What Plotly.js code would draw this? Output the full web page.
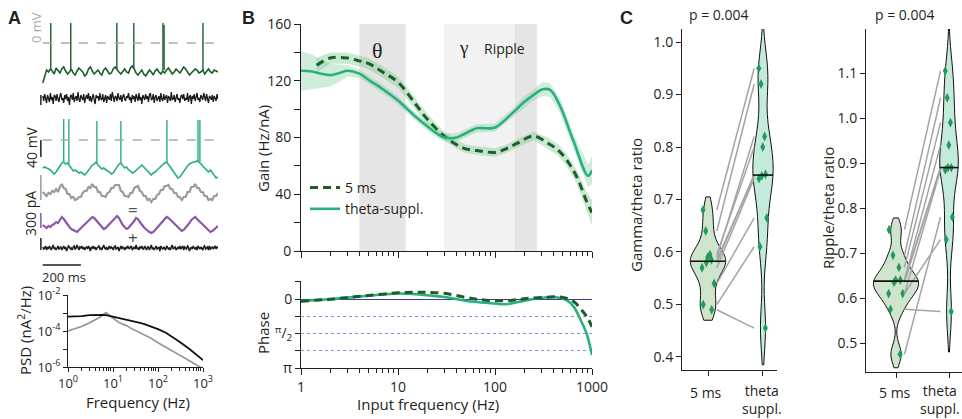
<!DOCTYPE html>
<html><head><meta charset="utf-8">
<script src="https://cdn.plot.ly/plotly-3.0.1.min.js"></script>
<style>html,body{margin:0;padding:0;background:#fff}#chart{width:962px;height:419px}</style>
</head><body><div id="chart"></div>
<script>
// ================= DATA =================
// Panel A: example traces (deflection in display units, up = positive)
const sampleStepMs = 10;   // membrane potential / theta current traces
const noiseStepMs = 5;     // noise traces
const vmCtrl = [-11,-3,2,0,3,1,-2,4,2,-1, 3,5,1,-2,0,3,-1,-3,1,4, 2,0,-4,-2,3,5,1,-2,0,2,
  -1,-3,2,4,1,-2,-1,3,5,2, 0,-2,1,3,0,-1,4,6,3,-1, -3,0,2,-2,-4,-1,2,0,-3,1,
  3,0,-2,1,-1,2,4,1,-2,0, 3,1,-1,2,5,3,0,-3,-1,1, 3,2,-1,0,2,-2,1,3,0,-1, 2,1,0];
const spikeCtrlT = [42,147,389,478,631,637,841];
const spikeCtrlBase = [3,3,3,3,2,2,2];
const spikeCtrlPeak = [49,49,49,49,49,47,49];
const noiseCtrl = [2,-3,4,-1,-5,3,0,-4,5,-2, 1,-6,3,2,-3,4,-1,-4,2,5, -2,0,-5,3,-1,4,-3,1,-7,2,
  3,-2,5,-4,0,2,-3,6,-1,-4, 3,1,-2,4,-5,0,3,-1,5,-3, 2,-4,1,4,-2,-6,3,0,2,-3,
  5,-1,-2,4,-4,1,3,-5,2,0, -2,4,-3,6,-1,-4,2,1,-3,5, 0,-2,3,-4,1,4,-1,-3,2,0,
  5,-2,1,-5,3,-1,2,-4,4,0, -3,5,-2,1,-6,3,0,-2,4,-1, 2,-4,3,5,-2,-1,4,-5,1,3,
  -3,0,2,-4,5,-1,-3,4,-2,1, 3,-5,2,0,-3,6,-2,-1,3,-4, 1,4,-2,0,-5,2,3,-1,4,-3,
  0,-2,5,-4,1,3,-6,2,-1,4, -3,1,5,-2,0,-4,3,1,-2,5, -1,-3,4,0,-5,2,1,-2,3,-4, 2,0,-3,4,-1];
const vmTheta = [2,3,2,1,0,-2,-4,-2,1,4, 7,8,6,7,4,1,-1,0,-2,-3, -2,-4,-5,-3,0,3,5,6,8,5,
  3,1,2,0,-1,-2,-4,-3,0,3, 6,7,4,2,3,0,-1,-3,-2,0, 2,4,5,3,1,-2,-4,-5,-3,-2,
  0,2,4,6,7,8,6,3,0,-3, -6,-8,-7,-4,-1,2,4,6,7,8, 8,9,8,6,3,1,-1,-2,0,-3, -6,-8,-7];
const spikeThetaT = [110,137,284,410,652,815,825];
const spikeThetaBase = [7,6,7,6,7,8,8];
const spikeThetaPeak = [51,51,49,49,50,50,50];
const iTotal = [1,-1,-3,0,-1,2,1,4,1,6, 9,5,4,-1,-1,-5,-4,-7,-6,-4, -4,0,2,2,6,5,9,6,6,1,
  1,-3,-3,-4,0,1,5,5,8,8, 8,2,1,-3,-3,-4,0,0,5,6, 7,2,1,-3,-3,-7,-6,-9,-6,-6,
  -2,-1,3,3,7,7,8,4,4,0, 0,-4,-4,-7,-4,-4,1,1,6,6, 9,5,5,1,1,-3,-3,-7,-6,-7, -3,-3,0];
const iTheta = [0,-2,-3,-1,-2,0,1,3,2,5, 8,6,3,0,-2,-4,-5,-6,-7,-5, -3,-1,1,3,5,6,8,7,5,2,
  0,-2,-4,-3,-1,2,4,6,7,9, 7,3,0,-2,-4,-3,-1,1,4,7, 6,3,0,-2,-4,-6,-7,-8,-7,-5,
  -3,0,2,4,6,8,7,5,3,1, -1,-3,-5,-6,-5,-3,0,2,5,7, 8,6,4,2,0,-2,-4,-6,-7,-6, -4,-2,-1];
const iNoise = [1,-1,0,2,-2,1,-1,2,0,-2, 1,3,-1,0,-2,1,2,-1,0,1, -2,0,2,-1,1,-3,0,2,1,-1,
  0,-2,1,2,-1,0,3,-1,-2,1, 0,2,-1,1,-2,0,1,-1,2,0, -3,1,0,2,-1,1,-2,0,1,2,
  -1,0,-2,1,3,0,-1,1,-2,0, 2,-1,1,0,-2,1,2,-1,0,1, -3,0,2,-1,1,0,-2,1,-1,2,
  0,-1,1,2,-2,0,1,-1,3,-1, 0,-2,1,0,2,-1,-1,2,0,-2, 1,1,-2,0,3,-1,0,-2,1,2,
  -1,0,1,-3,2,0,-1,1,0,-2, 2,1,-1,0,-2,1,3,-1,0,1, -2,0,1,-1,2,-1,0,2,-2,1,
  0,-1,2,1,-3,0,1,-1,2,0, -1,1,-2,2,0,-1,1,0,-2,1, 2,-1,0,1,-2,2,-1,0,1,-1, 0,2,-1,1,0];

// Panel A: PSD (log10 of nA^2/Hz)
const psdFreq = [1,1.5,2,3,4,5,6,7,8,10,13,16,20,25,30,40,50,70,100,150,200,300,500,700,1000];
const psdNoiseLog = [-3.2,-3.2,-3.17,-3.12,-3.1,-3.1,-3.1,-3.12,-3.15,-3.22,-3.3,-3.33,-3.38,-3.43,-3.47,-3.55,-3.62,-3.75,-3.9,-4.1,-4.3,-4.6,-5.0,-5.3,-5.62];
const psdThetaLog = [-4.0,-3.85,-3.75,-3.55,-3.4,-3.25,-3.1,-2.98,-3.1,-3.3,-3.5,-3.6,-3.7,-3.85,-3.95,-4.1,-4.2,-4.4,-4.65,-4.9,-5.05,-5.3,-5.65,-5.88,-6.1];

// Panel B: gain (Hz/nA)
const freq5ms = [1.45,2,3,4,5,7,10,15,20,30,40,50,70,100,130,170,250,350,450,550,700,880,1000];
const gain5ms = [131,136,136,134,132,126,119,104,93,81,75,72,70.5,69.5,72,76,81,76,71,64,52,35,27];
const gainErr5ms = [5,4,4,4,4,4,4,4,4,3,3,3,3,3,3,3,3,4,4,4,5,7,9];
const freqTheta = [1,1.3,1.6,2,2.5,3,4,5,7,10,15,20,25,30,40,50,65,80,100,150,200,250,310,370,470,640,910,1000];
const gainTheta = [127,126.5,125,124,125.5,127,125,120.5,114,106,95,88,83,80,80,83,86.5,86.5,87,97,105,110,114,113.5,102,78,53,57];
const gainErrTheta = [14,12,10,8,6,4,3,3,3,3,3,3,3,3,3,3,3,3,3,3,4,4,5,5,5,5,8,10];
const bandNames = ['θ','γ','Ripple'];
const bandLo = [4,30,160];
const bandHi = [12,160,270];

// Panel B: phase (rad, lag positive)
const phaseFreq5ms = [1,2,3,5,10,15,20,30,50,70,100,150,200,300,500,650,800,900,1000];
const phase5ms = [0.09,0.0,-0.07,-0.17,-0.29,-0.32,-0.31,-0.27,-0.08,0.02,0.07,0.05,-0.02,-0.08,-0.08,0.12,0.55,0.85,1.26];
const phaseFreqTheta = [1,2,3,5,10,15,20,30,60,100,130,230,400,550,650,750,880,1000];
const phaseTheta = [0.09,0.0,-0.07,-0.16,-0.26,-0.23,-0.18,-0.1,0.12,0.2,0.23,0.02,-0.1,0.05,0.35,0.88,1.57,2.55];

// Panel C: paired ratios (index i = same cell)
const condLabels = ['5 ms','theta<br>suppl.'];
const gammaTheta5ms = [0.68,0.64,0.59,0.595,0.585,0.57,0.58,0.54,0.50,0.49];
const gammaThetaSuppl = [0.95,0.92,0.82,0.80,0.745,0.74,0.748,0.665,0.61,0.455];
const rippleTheta5ms = [0.752,0.695,0.668,0.64,0.64,0.635,0.61,0.61,0.575,0.475];
const rippleThetaSuppl = [1.105,1.045,0.99,0.94,0.89,0.89,0.885,0.73,0.57,0.78];
const pValues = ['p = 0.004','p = 0.004'];

// ================= STYLE / LAYOUT HELPERS =================
const W = 962, H = 419;
const FONT = 'Open Sans, Noto Sans, sans-serif';
const INK = '#231f20';
const C_DARK = '#1b5e2b', C_TEAL = '#28b07e', C_PURPLE = '#8b58a8', C_GRAY = '#9b9b9b', C_BLACK = '#1a1a1a';
const px = x => x / W, py = y => 1 - y / H;
const dx = (a, b) => [px(a), px(b)];
const dy = (top, bottom) => [py(bottom), py(top)];
function minorLog(d0, d1){ const v=[]; for(let d=d0; d<d1; d*=10) for(let k=2;k<10;k++) v.push(k*d); return v; }
function ax(extra){
  return Object.assign({showline:true, linecolor:INK, linewidth:1, ticks:'outside', ticklen:5, tickwidth:1,
    tickcolor:INK, showgrid:false, zeroline:false, fixedrange:true,
    tickfont:{family:FONT, size:14, color:INK}}, extra);
}
const times = (arr, step) => arr.map((_, i) => i * step);
const median = a => { const s=[...a].sort((p,q)=>p-q); const n=s.length; return n%2 ? s[(n-1)/2] : (s[n/2-1]+s[n/2])/2; };

const OFF = {ctrl:198, noise:172, theta:100, total:77, thetaI:45, noiseI:22};

const traces = [];
function aLine(vals, step, off, color, w){
  traces.push({type:'scatter', mode:'lines', x:times(vals, step), y:vals.map(v=>v+off), xaxis:'x', yaxis:'y',
    line:{color, width:w||1.3}, hoverinfo:'skip', showlegend:false});
}
function aSpikes(t, base, peak, off, color){
  const x=[], y=[];
  t.forEach((tt,i)=>{ x.push(tt,tt,null); y.push(base[i]+off, peak[i]+off, null); });
  traces.push({type:'scatter', mode:'lines', x, y, xaxis:'x', yaxis:'y', line:{color, width:1.4},
    hoverinfo:'skip', showlegend:false});
}
aLine(vmCtrl, sampleStepMs, OFF.ctrl, C_DARK, 1.6); aSpikes(spikeCtrlT, spikeCtrlBase, spikeCtrlPeak, OFF.ctrl, C_DARK);
aLine(noiseCtrl, noiseStepMs, OFF.noise, C_BLACK, 1.3);
aLine(vmTheta, sampleStepMs, OFF.theta, C_TEAL, 1.6); aSpikes(spikeThetaT, spikeThetaBase, spikeThetaPeak, OFF.theta, C_TEAL);
aLine(iTotal, sampleStepMs, OFF.total, C_GRAY, 2.2);
aLine(iTheta, sampleStepMs, OFF.thetaI, C_PURPLE, 2.2);
aLine(iNoise, noiseStepMs, OFF.noiseI, C_BLACK, 1.5);

// PSD
traces.push({type:'scatter', mode:'lines', x:psdFreq, y:psdThetaLog.map(v=>Math.pow(10,v)), xaxis:'x2', yaxis:'y2',
  line:{color:'#999999', width:1.8}, hoverinfo:'skip', showlegend:false});
traces.push({type:'scatter', mode:'lines', x:psdFreq, y:psdNoiseLog.map(v=>Math.pow(10,v)), xaxis:'x2', yaxis:'y2',
  line:{color:'#111111', width:1.8}, hoverinfo:'skip', showlegend:false});

// Gain error bands
function band(f, g, e, color, xa, ya){
  const x = f.concat(f.slice().reverse());
  const y = g.map((v,i)=>v+e[i]).concat(g.map((v,i)=>v-e[i]).reverse());
  return {type:'scatter', mode:'lines', x, y, xaxis:xa, yaxis:ya, fill:'toself', fillcolor:color,
    line:{width:0}, hoverinfo:'skip', showlegend:false};
}
traces.push(band(freqTheta, gainTheta, gainErrTheta, 'rgba(120,200,150,0.35)', 'x3', 'y3'));
traces.push(band(freq5ms, gain5ms, gainErr5ms, 'rgba(120,200,140,0.40)', 'x3', 'y3'));
traces.push({type:'scatter', mode:'lines', name:'5 ms', x:freq5ms, y:gain5ms, xaxis:'x3', yaxis:'y3',
  line:{color:C_DARK, width:3, dash:'8px,5px', shape:'spline'}, hoverinfo:'skip', showlegend:true, legendrank:1});
traces.push({type:'scatter', mode:'lines', name:'theta-suppl.', x:freqTheta, y:gainTheta, xaxis:'x3', yaxis:'y3',
  line:{color:C_TEAL, width:2.6, shape:'spline'}, hoverinfo:'skip', showlegend:true, legendrank:2});

// Phase
traces.push({type:'scatter', mode:'lines', x:phaseFreqTheta, y:phaseTheta, xaxis:'x4', yaxis:'y4',
  line:{color:C_TEAL, width:2.6, shape:'spline'}, hoverinfo:'skip', showlegend:false});
traces.push({type:'scatter', mode:'lines', x:phaseFreq5ms, y:phase5ms, xaxis:'x4', yaxis:'y4',
  line:{color:C_DARK, width:3, dash:'8px,5px', shape:'spline'}, hoverinfo:'skip', showlegend:false});

// Panel C violins
function violinPanel(a, b, xa, ya, widths, bws, ext){
  [a, b].forEach((vals, k) => {
    const span = [Math.min(...vals) - ext[k][0], Math.max(...vals) + ext[k][1]];
    traces.push({type:'violin', x0:k, y:vals, xaxis:xa, yaxis:ya, width:widths[k], bandwidth:bws[k],
      spanmode:'manual', span, fillcolor: k===0 ? '#cfe4cd' : '#c4eadc', line:{color:'#111', width:1},
      points:'all', pointpos:0, jitter: k===0 ? 0.45 : 0.6,
      marker:{symbol:'diamond-tall', size:7, color:'#1f9b5c', line:{width:0}},
      box:{visible:false}, meanline:{visible:false}, hoverinfo:'skip', showlegend:false, opacity:1});
  });
  const x=[], y=[];
  a.forEach((v,i)=>{ x.push(0.16, 0.84, null); y.push(v, b[i], null); });
  traces.push({type:'scatter', mode:'lines', x, y, xaxis:xa, yaxis:ya, line:{color:'#a4a4a4', width:1.5},
    hoverinfo:'skip', showlegend:false});
  [a, b].forEach((vals, k) => {
    const m = median(vals);
    traces.push({type:'scatter', mode:'lines', x:[k-widths[k]/2, k+widths[k]/2], y:[m, m], xaxis:xa, yaxis:ya,
      line:{color:'#111', width:1.6}, hoverinfo:'skip', showlegend:false});
  });
}
violinPanel(gammaTheta5ms, gammaThetaSuppl, 'x5', 'y5', [0.64, 0.37], [0.024, 0.045], [[0.02,0.025],[0.07,0.12]]);
violinPanel(rippleTheta5ms, rippleThetaSuppl, 'x6', 'y6', [0.85, 0.35], [0.022, 0.05], [[0.03,0.026],[0.09,0.12]]);

// ================= LAYOUT =================
const shapes = [];
shapes.push({type:'line', xref:'x', yref:'y', x0:0, x1:920, y0:227, y1:227, line:{color:'#aaaaaa', width:1.5, dash:'dash'}});
shapes.push({type:'line', xref:'x', yref:'y', x0:0, x1:920, y0:130, y1:130, line:{color:'#aaaaaa', width:1.5, dash:'dash'}});
[[165,175,INK],[113,130,INK],[70,95,C_GRAY],[42,57,C_PURPLE],[20,32,INK]].forEach(s=>{
  shapes.push({type:'line', xref:'x', yref:'y', x0:-10, x1:-10, y0:s[0], y1:s[1], line:{color:s[2], width:1.5}});
});
shapes.push({type:'line', xref:'x', yref:'y', x0:0, x1:200, y0:5, y1:5, line:{color:INK, width:1.5}});
const bandFill = ['#e5e5e5', '#f2f2f2', '#e5e5e5'];
bandLo.forEach((lo,i)=>{
  shapes.push({type:'rect', xref:'x3', yref:'y3', x0:lo, x1:bandHi[i], y0:0, y1:160, fillcolor:bandFill[i],
    line:{width:0}, layer:'below'});
});

function ann(text, x, y, o){
  o = o || {};
  return {text, x:px(x), y:py(y), xref:'paper', yref:'paper', showarrow:false, xanchor:o.xa||'center', yanchor:'middle',
    textangle:o.rot||0, align:o.align||'center', font:{family:o.family||FONT, size:o.size||15, color:o.color||INK}};
}
const annotations = [
  ann('<b>A</b>', 14, 18, {family:'Liberation Sans, Arial, sans-serif', size:18}),
  ann('0 mV', 36, 28, {rot:-90, size:13, color:'#aaaaaa'}),
  ann('40 mV', 31, 147, {rot:-90, size:14}),
  ann('300 pA', 31, 214, {rot:-90, size:14}),
  ann('200 ms', 64, 277, {size:13}),
  ann('=', 133, 209, {size:17, color:'#555'}),
  ann('+', 133, 237, {size:17, color:'#444'}),
  ann('PSD (nA<sup>2</sup>/Hz)', 24, 331, {rot:-90}),
  ann('Frequency (Hz)', 138, 402),
  ann('<b>B</b>', 248, 18, {family:'Liberation Sans, Arial, sans-serif', size:18}),
  ann(bandNames[0], 377, 50, {family:'Liberation Serif, DejaVu Serif, serif', size:22}),
  ann(bandNames[1], 463, 47, {family:'Liberation Serif, DejaVu Serif, serif', size:19}),
  ann(bandNames[2], 504, 48, {size:14}),
  ann('Gain (Hz/nA)', 263, 149, {rot:-90}),
  ann('Phase', 263, 333, {rot:-90}),
  ann('Input frequency (Hz)', 428, 404),
  ann('<b>C</b>', 626, 18, {family:'Liberation Sans, Arial, sans-serif', size:18}),
  ann(pValues[0], 719, 15, {size:14}),
  ann(pValues[1], 905, 15, {size:14}),
  ann('Gamma/theta ratio', 636, 205, {rot:-90}),
  ann('Ripple/theta ratio', 828, 208, {rot:-90}),
  // category labels for panel C
  ann(condLabels[0], 706, 392, {size:14}),
  ann(condLabels[1], 762, 399, {size:14}),
  ann(condLabels[0], 895, 392, {size:14}),
  ann(condLabels[1], 940, 399, {size:14}),
];

const decTicks = [1,10,100,1000];
const PI = Math.PI;
const layout = {
  width:W, height:H, margin:{l:0, r:0, t:0, b:0}, autosize:false,
  paper_bgcolor:'#ffffff', plot_bgcolor:'rgba(0,0,0,0)',
  font:{family:FONT, size:14, color:INK},
  showlegend:true,
  legend:{x:px(305), y:py(172), xanchor:'left', yanchor:'top', bgcolor:'rgba(0,0,0,0)',
    font:{family:FONT, size:14, color:INK}, itemwidth:30, tracegroupgap:0, traceorder:'normal'},
  xaxis:{domain:dx(38,218), range:[-25,920], visible:false, anchor:'y', fixedrange:true},
  yaxis:{domain:dy(10,270), range:[0,260], visible:false, anchor:'x', fixedrange:true},
  xaxis2:ax({type:'log', domain:dx(68,203), range:[0,3], anchor:'y2', tickvals:decTicks,
    ticktext:['10<sup>0</sup>','10<sup>1</sup>','10<sup>2</sup>','10<sup>3</sup>'], ticklen:4,
    tickfont:{family:FONT, size:13, color:INK},
    minor:{tickvals:minorLog(1,1000), ticks:'outside', ticklen:2.5, tickcolor:INK}}),
  yaxis2:ax({type:'log', domain:dy(295,367), range:[-6,-2], anchor:'x2', ticklen:4,
    tickfont:{family:FONT, size:13, color:INK},
    tickvals:[1e-6,1e-4,1e-2], ticktext:['10<sup>-6</sup>','10<sup>-4</sup>','10<sup>-2</sup>'],
    minor:{tickvals:[1e-5,1e-3], ticks:'outside', ticklen:4, tickcolor:INK}}),
  xaxis3:ax({type:'log', domain:dx(301,592), range:[0,3], anchor:'y3', tickvals:decTicks, showticklabels:false,
    ticklen:6, minor:{tickvals:minorLog(1,1000), ticks:'outside', ticklen:4, tickcolor:INK}}),
  yaxis3:ax({domain:dy(24,251), range:[0,160], anchor:'x3', tickvals:[0,40,80,120,160], ticklen:6,
    minor:{tickvals:[20,60,100,140], ticks:'outside', ticklen:6, tickcolor:INK}}),
  xaxis4:ax({type:'log', domain:dx(301,592), range:[0,3], anchor:'y4', tickvals:decTicks,
    ticktext:['1','10','100','1000'], ticklen:6, minor:{tickvals:minorLog(1,1000), ticks:'outside', ticklen:4, tickcolor:INK}}),
  yaxis4:ax({domain:dy(281,368), range:[PI, -0.83], anchor:'x4', ticklen:5,
    tickvals:[0, PI/2, PI], ticktext:['0', '<sup>π</sup>/<sub>2</sub>', 'π'],
    minor:{tickvals:[-PI/4, PI/4, 3*PI/4], ticks:'outside', ticklen:5, tickcolor:INK, showgrid:true,
      gridcolor:'#8f8fd6', griddash:'dot', gridwidth:1.2},
    showgrid:true, gridcolor:'#8f8fd6', griddash:'dot', gridwidth:1.2,
    zeroline:true, zerolinecolor:'#3d3d8f', zerolinewidth:1}),
  xaxis5:ax({domain:dx(682,777), range:[-0.473,1.255], anchor:'y5', tickvals:[0,1], showticklabels:false}),
  yaxis5:ax({domain:dy(29,370), range:[0.3752,1.0248], anchor:'x5', tickvals:[0.4,0.5,0.6,0.7,0.8,0.9,1.0], tickformat:'.1f'}),
  xaxis6:ax({domain:dx(866,962), range:[-0.566,1.245], anchor:'y6', tickvals:[0,1], showticklabels:false}),
  yaxis6:ax({domain:dy(29,372), range:[0.4356,1.198], anchor:'x6', tickvals:[0.5,0.6,0.7,0.8,0.9,1.0,1.1], tickformat:'.1f'}),
  shapes, annotations,
  violingap:0, violinmode:'overlay'
};

Plotly.newPlot('chart', traces, layout, {displayModeBar:false, staticPlot:true});
</script>
</body></html>
